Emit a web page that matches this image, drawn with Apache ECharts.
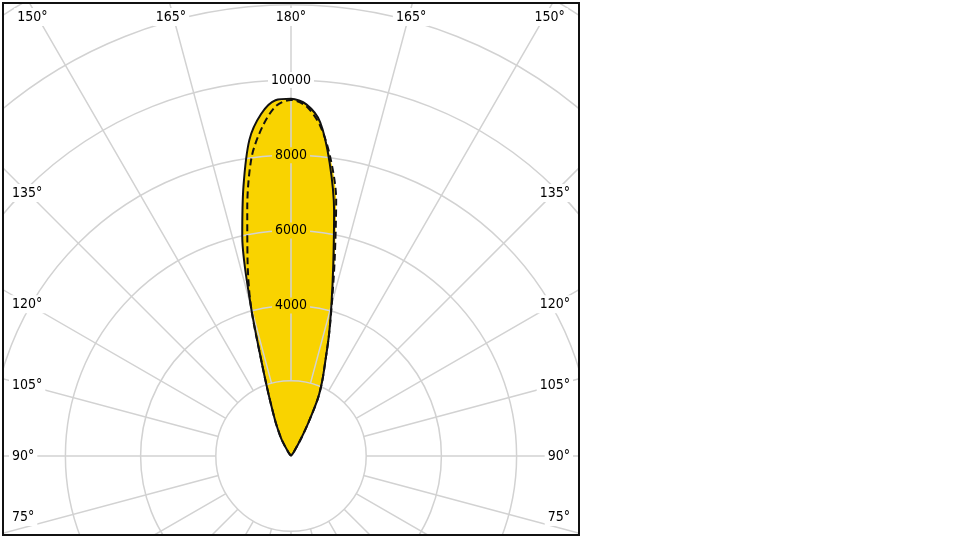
<!DOCTYPE html>
<html><head><meta charset="utf-8">
<script src="https://cdn.jsdelivr.net/npm/echarts@6/dist/echarts.min.js"></script>
<style>html,body{margin:0;padding:0;background:#fff}#c{width:960px;height:540px}</style>
</head><body><div id="c"></div>
<script>
// angular deviation from the 180° axis (gamma = 180 - alpha), both half-planes
const alphaDeg    = [0, 2.5, 5, 7.5, 10, 12.5, 15, 17.5, 20, 22.5, 25, 27.5, 30, 35, 40, 45, 60, 75, 90];
// solid curve (cd)
const solidRight  = [9500, 9360, 8910, 7870, 6600, 5190, 4150, 3350, 2660, 2180, 1700, 1010, 530, 130, 0, 0, 0, 0, 0];
const solidLeft   = [9500, 9470, 9130, 8480, 7280, 5990, 4120, 2560, 1740, 1240, 930, 670, 480, 130, 0, 0, 0, 0, 0];
// dashed curve (cd)
const dashedRight = [9470, 9310, 8830, 8010, 6920, 5370, 4200, 3350, 2660, 2180, 1700, 1010, 530, 130, 0, 0, 0, 0, 0];
const dashedLeft  = [9470, 9310, 8780, 8020, 6700, 5340, 4120, 2560, 1740, 1240, 930, 670, 480, 130, 0, 0, 0, 0, 0];
// tick labels
const gammaLabels  = [180, 165, 150, 135, 120, 105, 90, 75];
const radiusLabels = [4000, 6000, 8000, 10000];

const CX = 291, CY = 456, PX_PER_1000 = 37.6, RMAX = 16000, RSTEP = 2000;
const R = RMAX / 1000 * PX_PER_1000;
const R0 = RSTEP / 1000 * PX_PER_1000;
const FILL = '#F9D300', GRID = '#d2d2d2', INK = '#000';
const FAMILY = '"DejaVu Sans Condensed", "DejaVu Sans", Verdana, sans-serif';
const FSIZE = 14;
const FONT = FSIZE + 'px ' + FAMILY;
const FRAME = {x1: 3, y1: 3, x2: 579, y2: 535};

function curve(left, right) {
  const pts = [];
  for (let i = alphaDeg.length - 1; i >= 1; i--) pts.push([left[i], 360 - alphaDeg[i]]);
  for (let i = 0; i < alphaDeg.length; i++) pts.push([right[i], alphaDeg[i]]);
  return pts;
}
const solidData = curve(solidLeft, solidRight);
const dashedData = curve(dashedLeft, dashedRight);

function angleLabel(theta, text) {
  const a = theta * Math.PI / 180, s = Math.sin(a), c = Math.cos(a);
  const topY = 8, xl = 28, xr = 554;
  if (c > 0) {
    const t = (CY - topY) / c, x = CX + s * t;
    if (x >= xl && x <= xr) return {x: x, y: topY, align: 'center', va: 'top', text};
  }
  const xe = s < 0 ? xl : xr, t = (xe - CX) / s;
  let y = CY - c * t; y = Math.min(y, 517);
  return {x: s < 0 ? 9 : 573, y: y, align: s < 0 ? 'left' : 'right', va: 'middle', text};
}
const labelItems = [];
gammaLabels.forEach(g => {
  labelItems.push(angleLabel(180 - g, g + '°'));
  if (g !== 180) labelItems.push(angleLabel(180 + g, g + '°'));
});

const graphics = [
  {type: 'rect', silent: true, z: 90, shape: {x: 0, y: 0, width: FRAME.x1, height: 540}, style: {fill: '#fff'}},
  {type: 'rect', silent: true, z: 90, shape: {x: 0, y: 0, width: 960, height: FRAME.y1}, style: {fill: '#fff'}},
  {type: 'rect', silent: true, z: 90, shape: {x: FRAME.x2, y: 0, width: 960 - FRAME.x2, height: 540}, style: {fill: '#fff'}},
  {type: 'rect', silent: true, z: 90, shape: {x: 0, y: FRAME.y2, width: 960, height: 540 - FRAME.y2}, style: {fill: '#fff'}},
  {type: 'rect', silent: true, z: 95, shape: {x: FRAME.x1, y: FRAME.y1, width: FRAME.x2 - FRAME.x1, height: FRAME.y2 - FRAME.y1},
   style: {fill: null, stroke: '#111', lineWidth: 2}}
];
labelItems.forEach(l => graphics.push({
  type: 'text', silent: true, z: 96, x: l.x, y: l.y,
  style: {text: l.text, font: FONT, fill: INK, align: l.align, verticalAlign: l.va, backgroundColor: '#fff', padding: [2, 3]}
}));

const richBase = {padding: [1, 3], color: INK, fontSize: FSIZE, fontFamily: FAMILY};
const chart = echarts.init(document.getElementById('c'), null, {renderer: 'canvas'});
chart.setOption({
  animation: false,
  backgroundColor: '#fff',
  polar: [{center: [CX, CY], radius: [0, R]}, {center: [CX, CY], radius: [R0, R]}],
  angleAxis: [
    {polarIndex: 0, type: 'value', min: 0, max: 360, interval: 15, startAngle: 90, clockwise: true,
     axisLine: {show: false}, axisTick: {show: false}, axisLabel: {show: false}, splitLine: {show: false}},
    {polarIndex: 1, type: 'value', min: 0, max: 360, interval: 15, startAngle: 90, clockwise: true, z: 3,
     axisLine: {show: false}, axisTick: {show: false}, axisLabel: {show: false},
     splitLine: {show: true, lineStyle: {color: GRID, width: 1.5}}}
  ],
  radiusAxis: [
    {polarIndex: 0, type: 'value', min: 0, max: RMAX, interval: RSTEP, z: 6,
     axisLine: {show: false}, axisTick: {show: false}, splitLine: {show: false},
     axisLabel: {show: true, margin: 0, align: 'center', verticalAlign: 'middle', color: INK,
       fontFamily: FAMILY, fontSize: FSIZE,
       formatter: v => radiusLabels.includes(v) ? ('{' + (v < solidRight[0] ? 'y' : 'w') + '|' + v + '}') : '',
       rich: {
         y: Object.assign({backgroundColor: FILL}, richBase),
         w: Object.assign({backgroundColor: '#fff'}, richBase)
       }}},
    {polarIndex: 1, type: 'value', min: RSTEP, max: RMAX, interval: RSTEP, z: 3,
     axisLine: {show: false}, axisTick: {show: false}, axisLabel: {show: false},
     splitLine: {show: true, lineStyle: {color: GRID, width: 1.5}}}
  ],
  series: [
    {type: 'line', coordinateSystem: 'polar', polarIndex: 0, z: 1, data: dashedData, symbol: 'none', smooth: 0.3,
     lineStyle: {width: 0, opacity: 0}, areaStyle: {color: FILL, opacity: 1}},
    {type: 'line', coordinateSystem: 'polar', polarIndex: 0, z: 1, data: solidData, symbol: 'none', smooth: 0.3,
     lineStyle: {width: 0, opacity: 0}, areaStyle: {color: FILL, opacity: 1}},
    {type: 'line', coordinateSystem: 'polar', polarIndex: 0, z: 4, data: dashedData, symbol: 'none', smooth: 0.3,
     lineStyle: {color: '#111', width: 2, type: [7, 4]}},
    {type: 'line', coordinateSystem: 'polar', polarIndex: 0, z: 5, data: solidData, symbol: 'none', smooth: 0.3,
     lineStyle: {color: '#111', width: 2}}
  ],
  graphic: graphics
});
</script></body></html>
